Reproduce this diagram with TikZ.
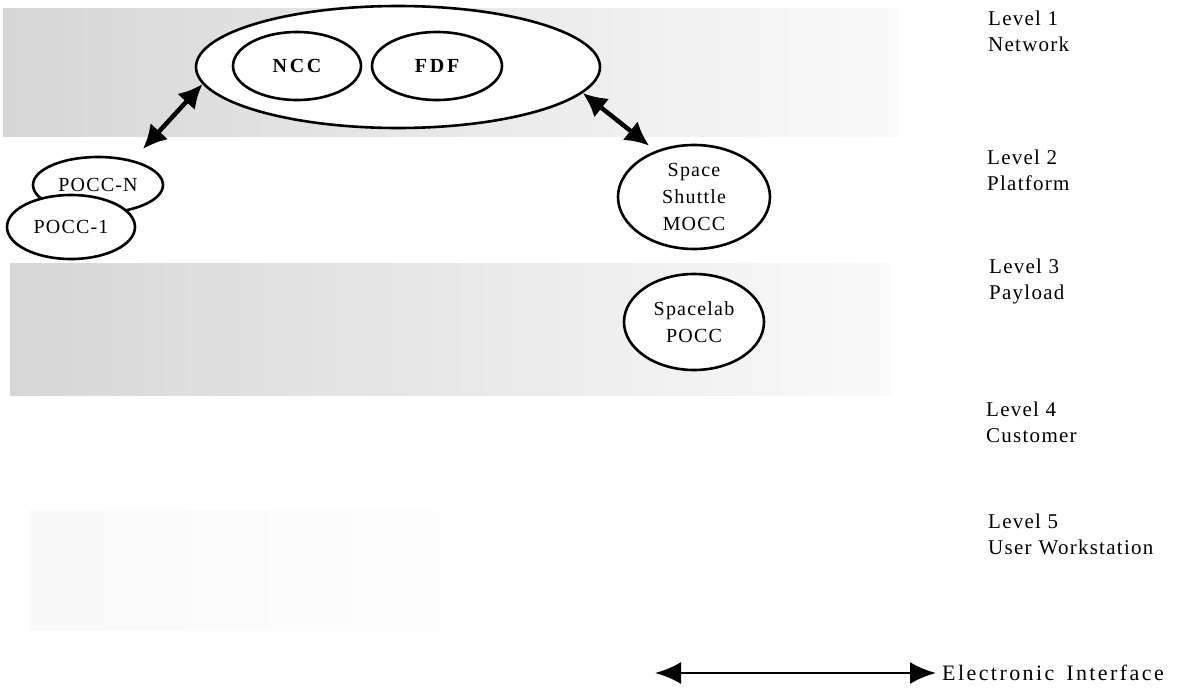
\documentclass[tikz,border=0pt]{standalone}
\usepackage{fontspec}
\setmainfont[LetterSpace=6]{Liberation Serif}
\newfontfamily\spacedbold[LetterSpace=14,BoldFont={Liberation Serif Bold}]{Liberation Serif}
\newfontfamily\legendfont[LetterSpace=11,WordSpace=1.5]{Liberation Serif}
\usetikzlibrary{arrows.meta,shapes.geometric}
\begin{document}
\begin{tikzpicture}[x=1pt,y=-1pt,
  oval/.style={draw, line width=2.6pt, ellipse, fill=white, inner sep=0pt, align=center,
     font=\fontsize{20}{27}\selectfont},
  lvl/.style={anchor=west, align=left, inner sep=0pt, font=\fontsize{21}{26}\selectfont},
  iface/.style={line width=4.5pt, {Latex[length=24pt,width=24pt]}-{Latex[length=24pt,width=24pt]}},
  legarrow/.style={line width=2.8pt, {Latex[length=26pt,width=22pt]}-{Latex[length=26pt,width=22pt]}}
]
\useasboundingbox (0,0) rectangle (1195,699);
% shaded bands
\shade[left color=gray!32, right color=gray!4] (3,8) rectangle (900,136);
\shade[left color=gray!32, right color=gray!4] (10,263) rectangle (890,395);
\shade[left color=gray!5, right color=white] (30,510) rectangle (560,630);
% network level
\node[oval, minimum width=404pt, minimum height=122pt] (net) at (398,67) {};
\node[oval, minimum width=128pt, minimum height=68pt, font=\fontsize{20}{24}\spacedbold\bfseries] (ncc) at (297,66) {NCC};
\node[oval, minimum width=130pt, minimum height=68pt, font=\fontsize{20}{24}\spacedbold\bfseries] (fdf) at (437,66) {FDF};
% platform level
\node[oval, minimum width=130pt, minimum height=56pt] (poccn) at (98,185) {POCC-N};
\node[oval, minimum width=128pt, minimum height=64pt] (pocc1) at (71,227) {POCC-1};
\node[oval, minimum width=152pt, minimum height=104pt] (mocc) at (694,197) {Space\\Shuttle\\MOCC};
% payload level
\node[oval, minimum width=140pt, minimum height=96pt] (slab) at (694,322) {Spacelab\\POCC};
% interfaces
\draw[iface] ([shift={(14,-10)}]poccn.40) -- (net.185);
\draw[iface] (net.-8) -- ([shift={(-4,-6)}]mocc.132);
% level labels
\node[lvl] (l1) at (988,31) {Level 1\\Network};
\node[lvl] (l2) at (987,170) {Level 2\\Platform};
\node[lvl] (l3) at (989,281) {Level 3\\Payload};
\node[lvl] (l4) at (986,422) {Level 4\\Customer};
\node[lvl] (l5) at (988,534) {Level 5\\User{\hspace{7pt}}Workstation};
% legend
\node[lvl, font=\fontsize{22}{26}\legendfont] (leg) at (942,673) {Electronic Interface};
\coordinate (legs) at (655,673);
\draw[legarrow] (legs) -- ([xshift=-6pt]leg.west);
\end{tikzpicture}
\end{document}
